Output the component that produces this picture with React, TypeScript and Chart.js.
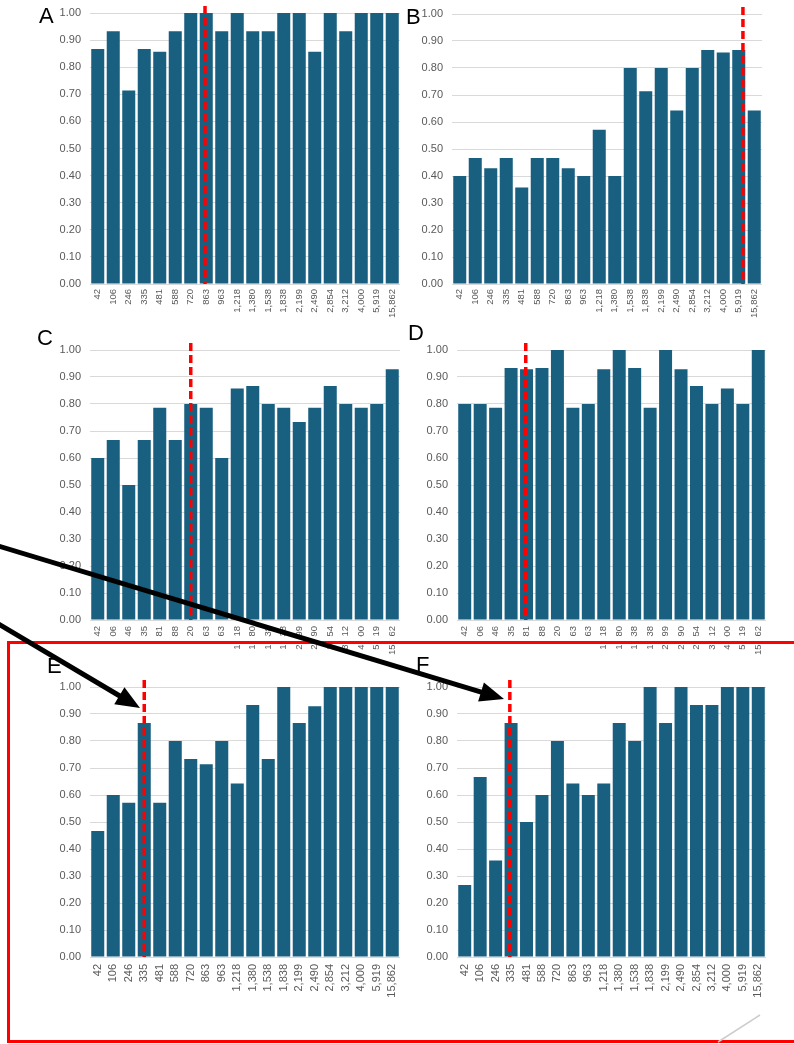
import React, { useEffect, useRef } from "react";
import { Chart, registerables } from "chart.js";

Chart.register(...registerables);

// ---------- data ----------
const categories = [
  "42", "106", "246", "335", "481", "588", "720", "863", "963", "1,218",
  "1,380", "1,538", "1,838", "2,199", "2,490", "2,854", "3,212", "4,000", "5,919", "15,862",
];

const valuesA = [0.867, 0.933, 0.714, 0.867, 0.857, 0.933, 1.0, 1.0, 0.933, 1.0, 0.933, 0.933, 1.0, 1.0, 0.857, 1.0, 0.933, 1.0, 1.0, 1.0];
const valuesB = [0.4, 0.467, 0.429, 0.467, 0.357, 0.467, 0.467, 0.429, 0.4, 0.571, 0.4, 0.8, 0.714, 0.8, 0.643, 0.8, 0.867, 0.857, 0.867, 0.643];
const valuesC = [0.6, 0.667, 0.5, 0.667, 0.786, 0.667, 0.8, 0.786, 0.6, 0.857, 0.867, 0.8, 0.786, 0.733, 0.786, 0.867, 0.8, 0.786, 0.8, 0.929];
const valuesD = [0.8, 0.8, 0.786, 0.933, 0.929, 0.933, 1.0, 0.786, 0.8, 0.929, 1.0, 0.933, 0.786, 1.0, 0.929, 0.867, 0.8, 0.857, 0.8, 1.0];
const valuesE = [0.467, 0.6, 0.571, 0.867, 0.571, 0.8, 0.733, 0.714, 0.8, 0.643, 0.933, 0.733, 1.0, 0.867, 0.929, 1.0, 1.0, 1.0, 1.0, 1.0];
const valuesF = [0.267, 0.667, 0.357, 0.867, 0.5, 0.6, 0.8, 0.643, 0.6, 0.643, 0.867, 0.8, 1.0, 0.867, 1.0, 0.933, 0.933, 1.0, 1.0, 1.0];

// category at which each panel's dashed reference line sits
const markerA = "863";
const markerB = "5,919";
const markerC = "720";
const markerD = "481";
const markerE = "335";
const markerF = "335";

const yMin = 0;
const yMax = 1;
const yStep = 0.1;

// ---------- styling ----------
const BAR = "#185f80";
const GRID = "#d9d9d9";
const TICK = "#595959";
const FONT = "'Liberation Sans', Arial, sans-serif";

const markerPlugin = {
  id: "marker",
  afterDatasetsDraw(chart: any, _args: any, opts: any) {
    const xs = chart.scales.x;
    const idx = categories.indexOf(opts.category);
    if (idx < 0) return;
    const catW = xs.width / categories.length;
    const x = xs.getPixelForValue(idx) + (opts.shift || 0) * catW;
    const { top, bottom } = chart.chartArea;
    const ctx = chart.ctx;
    ctx.save();
    ctx.strokeStyle = "#ff0000";
    ctx.lineWidth = 3.5;
    ctx.setLineDash([8, 4]);
    ctx.beginPath();
    ctx.moveTo(x, top - 7);
    ctx.lineTo(x, bottom);
    ctx.stroke();
    ctx.restore();
  },
};

type PanelProps = {
  values: number[];
  marker: string;
  shift: number;
  left: number;
  top: number;
  width: number;
  height: number;
  xHeight: number;
  xFont: number;
  xPad: number;
};

function Panel({ values, marker, shift, left, top, width, height, xHeight, xFont, xPad }: PanelProps) {
  const ref = useRef<HTMLCanvasElement>(null);
  const YW = 70;
  const PT = 20;
  const PR = 18;
  const cw = YW + width + PR;
  const ch = PT + height + xHeight;

  useEffect(() => {
    const chart = new Chart(ref.current as HTMLCanvasElement, {
      type: "bar",
      data: {
        labels: categories,
        datasets: [
          {
            data: values,
            backgroundColor: BAR,
            borderWidth: 0,
            barPercentage: 0.84,
            categoryPercentage: 1,
          },
        ],
      },
      options: {
        animation: false,
        responsive: false,
        devicePixelRatio: 1,
        layout: { padding: { top: PT, right: PR, left: 0, bottom: 0 } },
        plugins: {
          legend: { display: false },
          tooltip: { enabled: false },
          marker: { category: marker, shift },
        } as any,
        scales: {
          x: {
            grid: { display: false, drawTicks: false },
            border: { display: false },
            ticks: {
              autoSkip: false,
              maxRotation: 90,
              minRotation: 90,
              padding: xPad,
              color: TICK,
              font: { family: FONT, size: xFont },
            },
            afterFit: (s: any) => {
              s.height = xHeight;
            },
          },
          y: {
            min: yMin,
            max: yMax,
            grid: { color: GRID, drawTicks: false, lineWidth: 1 },
            border: { display: false },
            ticks: {
              stepSize: yStep,
              padding: 9,
              color: TICK,
              font: { family: FONT, size: 11 },
              callback: (v: any) => Number(v).toFixed(2),
            },
            afterFit: (s: any) => {
              s.width = YW;
            },
          },
        },
      } as any,
      plugins: [markerPlugin],
    });
    return () => chart.destroy();
  }, []);

  return (
    <canvas
      ref={ref}
      width={cw}
      height={ch}
      style={{ position: "absolute", left: left - YW, top: top - PT, width: cw, height: ch }}
    />
  );
}

function Arrow({ x1, y1, x2, y2 }: { x1: number; y1: number; x2: number; y2: number }) {
  const dx = x2 - x1;
  const dy = y2 - y1;
  const len = Math.hypot(dx, dy);
  const ux = dx / len;
  const uy = dy / len;
  const hl = 24;
  const hw = 10;
  const bx = x2 - ux * hl;
  const by = y2 - uy * hl;
  const px = -uy;
  const py = ux;
  const pts = `${x2},${y2} ${bx + px * hw},${by + py * hw} ${bx - px * hw},${by - py * hw}`;
  return (
    <g>
      <line x1={x1} y1={y1} x2={bx + ux * 2} y2={by + uy * 2} stroke="#000" strokeWidth={5} />
      <polygon points={pts} fill="#000" />
    </g>
  );
}

export default function App() {
  const letterStyle = { fontFamily: FONT, fontSize: 22, fill: "#000" } as any;
  return (
    <div
      style={{
        position: "absolute",
        left: 0,
        top: 0,
        width: 794,
        height: 1044,
        overflow: "hidden",
        background: "#fff",
      }}
    >
      <Panel values={valuesA} marker={markerA} shift={-0.08} left={90} top={13} width={310} height={271} xHeight={46} xFont={9.5} xPad={5} />
      <Panel values={valuesB} marker={markerB} shift={0.27} left={452} top={14} width={310} height={270} xHeight={46} xFont={9.5} xPad={5} />
      <Panel values={valuesC} marker={markerC} shift={0} left={90} top={350} width={310} height={270} xHeight={46} xFont={9.5} xPad={6} />
      <Panel values={valuesD} marker={markerD} shift={-0.05} left={457} top={350} width={309} height={270} xHeight={46} xFont={9.5} xPad={6} />
      <Panel values={valuesE} marker={markerE} shift={0} left={90} top={687} width={310} height={270} xHeight={55} xFont={11} xPad={7} />
      <Panel values={valuesF} marker={markerF} shift={-0.08} left={457} top={687} width={309} height={270} xHeight={55} xFont={11} xPad={7} />

      <svg
        width={794}
        height={1044}
        style={{ position: "absolute", left: 0, top: 0, pointerEvents: "none" }}
      >
        <rect x={0} y={637} width={794} height={4} fill="#fff" />
        <rect x={8.5} y={642.5} width={800} height={399} fill="none" stroke="#ff0000" strokeWidth={3} />
        <line x1={760} y1={1015} x2={718} y2={1042} stroke="#cccccc" strokeWidth={1.5} />

        <text x={39} y={23} style={letterStyle}>A</text>
        <text x={406} y={24} style={letterStyle}>B</text>
        <text x={37} y={345} style={letterStyle}>C</text>
        <text x={408} y={340} style={letterStyle}>D</text>
        <text x={47} y={673} style={letterStyle}>E</text>
        <text x={416} y={672} style={letterStyle}>F</text>

        <Arrow x1={-10} y1={619} x2={140} y2={708} />
        <Arrow x1={-5} y1={545} x2={504} y2={699} />
      </svg>
    </div>
  );
}
